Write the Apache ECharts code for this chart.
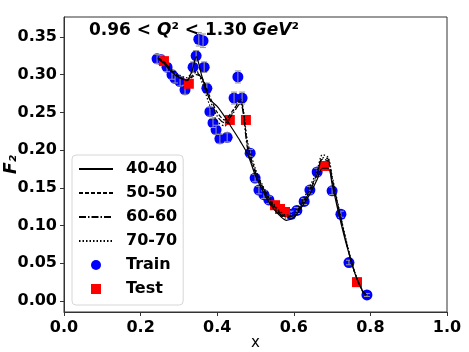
<!DOCTYPE html>
<html>
<head>
<meta charset="utf-8">
<script src="https://cdn.jsdelivr.net/npm/echarts@6/dist/echarts.min.js"></script>
<style>
  html, body { margin: 0; padding: 0; background: #fff; }
  #chart { width: 469px; height: 352px; }
</style>
</head>
<body>
<div id="chart"></div>
<script>
// training points (x, F2, error)
const trainX = [0.243, 0.253, 0.269, 0.282, 0.290, 0.303, 0.316, 0.337, 0.345, 0.352, 0.363, 0.366,
  0.373, 0.381, 0.389, 0.397, 0.407, 0.426, 0.444, 0.454, 0.465, 0.486, 0.499, 0.509, 0.522, 0.535,
  0.593, 0.608, 0.627, 0.642, 0.661, 0.700, 0.723, 0.744, 0.791];
const trainY = [0.321, 0.320, 0.310, 0.300, 0.295, 0.291, 0.280, 0.310, 0.325, 0.347, 0.345, 0.310,
  0.282, 0.251, 0.236, 0.227, 0.215, 0.217, 0.269, 0.297, 0.269, 0.196, 0.163, 0.147, 0.141, 0.134,
  0.115, 0.120, 0.132, 0.147, 0.171, 0.146, 0.115, 0.051, 0.008];
const trainErr = [0.006, 0.006, 0.006, 0.006, 0.006, 0.006, 0.006, 0.007, 0.007, 0.009, 0.009, 0.007,
  0.007, 0.006, 0.006, 0.006, 0.006, 0.006, 0.008, 0.008, 0.008, 0.005, 0.005, 0.005, 0.005, 0.005,
  0.004, 0.004, 0.004, 0.005, 0.005, 0.005, 0.004, 0.003, 0.002];

// test points
const testX = [0.261, 0.326, 0.433, 0.475, 0.551, 0.564, 0.577, 0.679, 0.765];
const testY = [0.318, 0.288, 0.240, 0.240, 0.127, 0.122, 0.118, 0.179, 0.025];

// model curves
const fitX = [0.245, 0.26, 0.28, 0.30, 0.32, 0.335, 0.345, 0.36, 0.38, 0.40, 0.42, 0.44, 0.46, 0.48,
  0.50, 0.52, 0.54, 0.56, 0.58, 0.60, 0.62, 0.64, 0.66, 0.675, 0.69, 0.70, 0.72, 0.74, 0.76, 0.78, 0.79];
const fit40 = [0.322, 0.316, 0.304, 0.296, 0.293, 0.306, 0.324, 0.298, 0.268, 0.258, 0.244, 0.228,
  0.212, 0.194, 0.166, 0.145, 0.127, 0.115, 0.107, 0.111, 0.124, 0.140, 0.160, 0.176, 0.176, 0.155,
  0.110, 0.070, 0.036, 0.013, 0.008];
const fit50 = [0.322, 0.318, 0.306, 0.298, 0.292, 0.297, 0.300, 0.296, 0.272, 0.250, 0.240, 0.252,
  0.265, 0.205, 0.172, 0.150, 0.132, 0.119, 0.112, 0.115, 0.128, 0.146, 0.168, 0.188, 0.185, 0.160,
  0.115, 0.072, 0.036, 0.013, 0.008];
const fit60 = [0.321, 0.315, 0.305, 0.297, 0.293, 0.299, 0.303, 0.294, 0.268, 0.245, 0.236, 0.248,
  0.262, 0.200, 0.170, 0.148, 0.130, 0.117, 0.110, 0.114, 0.126, 0.144, 0.166, 0.190, 0.188, 0.163,
  0.116, 0.072, 0.036, 0.012, 0.008];
const fit70 = [0.323, 0.317, 0.308, 0.300, 0.296, 0.303, 0.305, 0.290, 0.260, 0.238, 0.232, 0.250,
  0.268, 0.210, 0.175, 0.152, 0.134, 0.121, 0.114, 0.118, 0.131, 0.150, 0.172, 0.194, 0.190, 0.166,
  0.118, 0.074, 0.037, 0.013, 0.008];

const xTicks = [0, 0.2, 0.4, 0.6, 0.8, 1.0];
const yTicks = [0, 0.05, 0.10, 0.15, 0.20, 0.25, 0.30, 0.35];

const FONT = "DejaVu Sans";
const chart = echarts.init(document.getElementById("chart"));

function pairs(xs, ys) {
  return xs.map((x, i) => [x, ys[i]]);
}

function fitSeries(name, ys, type) {
  return {
    name,
    type: "line",
    data: pairs(fitX, ys),
    symbol: "none",
    smooth: 0.3,
    z: 5,
    lineStyle: { color: "#000", width: 1.2, type },
    itemStyle: { color: "#000" },
  };
}

// small legend markers: the corner points pad the box so the mark stays small
const legendDot = "path://M0,0L0,0M14,14L14,14M2,7a5,5 0 1,0 10,0a5,5 0 1,0 -10,0z";
const legendSquare = "path://M0,0L0,0M14,14L14,14M2,2h10v10h-10z";

const axisCommon = {
  nameMoveOverlap: false,
  axisLine: { show: true, onZero: false, lineStyle: { color: "#333", width: 1 } },
  axisTick: { show: true, inside: false, length: 4, lineStyle: { color: "#333" } },
  splitLine: { show: false },
};

chart.setOption({
  animation: false,
  title: {
    left: 89,
    top: 22,
    padding: 0,
    text: "{b|0.96 < }{i|Q}{b|² < 1.30 }{i|GeV}{b|²}",
    textStyle: {
      rich: {
        b: { fontFamily: FONT, fontWeight: "bold", fontSize: 17, color: "#000" },
        i: { fontFamily: FONT, fontWeight: "bold", fontStyle: "italic", fontSize: 17, color: "#000" },
      },
    },
  },
  grid: {
    left: 64,
    right: 22,
    top: 17,
    bottom: 40,
    outerBoundsMode: "none",
    containLabel: false,
    show: true,
    borderColor: "#333",
    borderWidth: 1,
    backgroundColor: "transparent",
  },
  legend: {
    orient: "vertical",
    left: 72,
    top: 155,
    padding: [6, 6, 8, 6],
    itemWidth: 34,
    itemHeight: 14,
    itemGap: 8,
    borderColor: "#d6d6d6",
    borderWidth: 1,
    borderRadius: 4,
    backgroundColor: "rgba(255,255,255,0.8)",
    textStyle: {
      fontFamily: FONT,
      fontWeight: "bold",
      fontSize: 16,
      color: "#000",
      lineHeight: 16,
      padding: [0, 0, 0, 8],
    },
    data: [
      { name: "40-40", itemStyle: { opacity: 0 } },
      { name: "50-50", itemStyle: { opacity: 0 } },
      { name: "60-60", itemStyle: { opacity: 0 } },
      { name: "70-70", itemStyle: { opacity: 0 } },
      { name: "Train", icon: legendDot, itemStyle: { color: "#0000ff" } },
      { name: "Test", icon: legendSquare, itemStyle: { color: "#ff0000" } },
    ],
  },
  xAxis: {
    type: "value",
    min: 0,
    max: 1,
    interval: 0.2,
    name: "x",
    nameLocation: "middle",
    nameGap: 24,
    nameTextStyle: { fontFamily: FONT, fontSize: 15, color: "#000" },
    axisLabel: {
      margin: 8,
      fontFamily: FONT,
      fontWeight: "bold",
      fontSize: 16,
      color: "#000",
      customValues: xTicks,
      formatter: (v) => v.toFixed(1),
    },
    ...axisCommon,
    axisTick: { ...axisCommon.axisTick, customValues: xTicks },
  },
  yAxis: {
    type: "value",
    min: -0.0146,
    max: 0.3765,
    name: "F₂",
    nameLocation: "middle",
    nameRotate: 90,
    nameGap: 44,
    nameTextStyle: {
      fontFamily: FONT, fontSize: 17, fontWeight: "bold", fontStyle: "italic", color: "#000",
    },
    axisLabel: {
      margin: 7,
      fontFamily: FONT,
      fontWeight: "bold",
      fontSize: 16,
      color: "#000",
      customValues: yTicks,
      formatter: (v) => v.toFixed(2),
    },
    ...axisCommon,
    axisTick: { ...axisCommon.axisTick, customValues: yTicks },
  },
  series: [
    {
      name: "Train",
      type: "scatter",
      data: pairs(trainX, trainY),
      symbol: "circle",
      symbolSize: 11,
      z: 2,
      itemStyle: { color: "#0000ff", opacity: 1 },
    },
    {
      name: "Train err",
      type: "custom",
      z: 3,
      data: trainX.map((x, i) => [x, trainY[i], trainErr[i]]),
      renderItem: (params, api) => {
        const x = api.value(0);
        const y = api.value(1);
        const e = api.value(2);
        const top = api.coord([x, y + e]);
        const bot = api.coord([x, y - e]);
        const cap = 3;
        const style = { stroke: "#999", lineWidth: 1 };
        return {
          type: "group",
          children: [
            { type: "line", shape: { x1: top[0], y1: top[1], x2: bot[0], y2: bot[1] }, style },
            { type: "line", shape: { x1: top[0] - cap, y1: top[1], x2: top[0] + cap, y2: top[1] }, style },
            { type: "line", shape: { x1: bot[0] - cap, y1: bot[1], x2: bot[0] + cap, y2: bot[1] }, style },
          ],
        };
      },
    },
    {
      name: "Test",
      type: "scatter",
      data: pairs(testX, testY),
      symbol: "rect",
      symbolSize: 10,
      z: 4,
      itemStyle: { color: "#ff0000", opacity: 1 },
    },
    fitSeries("40-40", fit40, "solid"),
    fitSeries("50-50", fit50, [4, 2]),
    fitSeries("60-60", fit60, [7, 2, 1.5, 2]),
    fitSeries("70-70", fit70, [1.5, 2]),
  ],
});
</script>
</body>
</html>
